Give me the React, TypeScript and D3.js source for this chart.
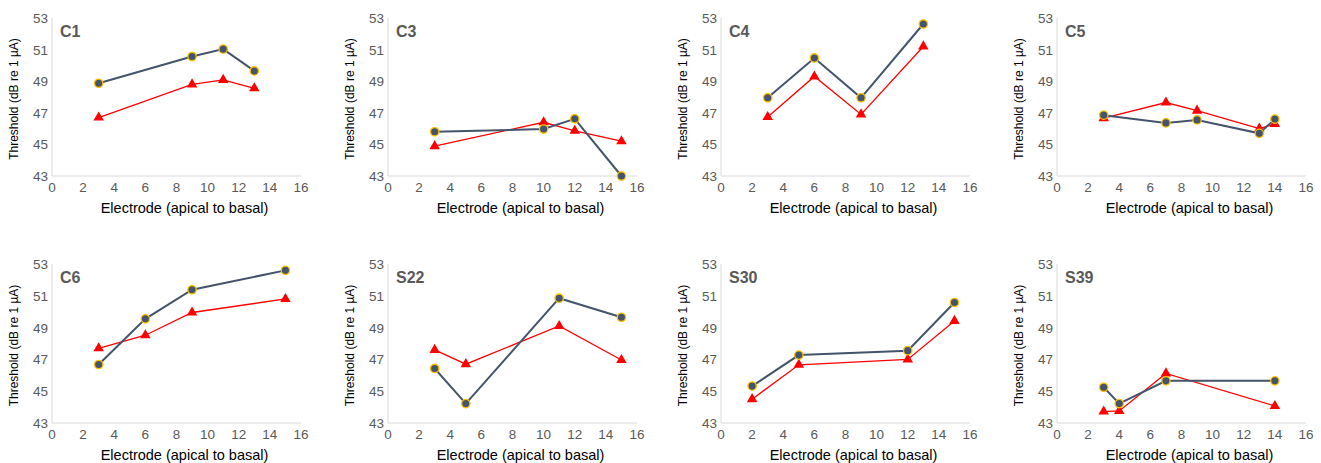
import React, { useRef, useEffect } from "react";
import * as d3 from "d3";

// panel names, in reading order
const panelNames = ["C1", "C3", "C4", "C5", "C6", "S22", "S30", "S39"];

// electrode numbers measured in each panel
const electrodes = [
  [3, 9, 11, 13],
  [3, 10, 12, 15],
  [3, 6, 9, 13],
  [3, 7, 9, 13, 14],
  [3, 6, 9, 15],
  [3, 5, 11, 15],
  [2, 5, 12, 15],
  [3, 4, 7, 14],
];

// dark circles
const circleThresholds = [
  [48.87, 50.56, 51.03, 49.65],
  [45.8, 45.97, 46.62, 43.0],
  [47.95, 50.47, 47.95, 52.62],
  [46.85, 46.36, 46.55, 45.7, 46.6],
  [46.68, 49.55, 51.38, 52.6],
  [46.43, 44.22, 50.85, 49.65],
  [45.32, 47.27, 47.55, 50.58],
  [45.25, 44.22, 45.65, 45.65],
];

// red triangles
const triangleThresholds = [
  [46.7, 48.8, 49.08, 48.55],
  [44.89, 46.4, 45.86, 45.2],
  [46.73, 49.3, 46.9, 51.2],
  [46.66, 47.65, 47.14, 46.0, 46.3],
  [47.7, 48.52, 49.95, 50.8],
  [47.6, 46.7, 49.1, 46.96],
  [44.5, 46.66, 47.0, 49.42],
  [43.72, 43.76, 46.12, 44.07],
];

const xTicks = [0, 2, 4, 6, 8, 10, 12, 14, 16];
const yTicks = [43, 45, 47, 49, 51, 53];

const W = 1321;
const H = 463;

const App = () => {
  const ref = useRef(null);

  useEffect(() => {
    const svg = d3.select(ref.current);
    svg.selectAll("*").remove();

    const lefts = [52, 388, 721, 1057];
    const plotW = 249;
    const rows = [
      { top: 18, bottom: 176, title: 213 },
      { top: 264, bottom: 423, title: 460 },
    ];
    const font = "'Liberation Sans', Arial, Helvetica, sans-serif";

    panelNames.forEach((name, i) => {
      const left = lefts[i % 4];
      const row = rows[Math.floor(i / 4)];
      const x = d3.scaleLinear().domain([0, 16]).range([left, left + plotW]);
      const y = d3.scaleLinear().domain([43, 53]).range([row.bottom, row.top]);
      const g = svg.append("g");

      // axes
      g.append("line")
        .attr("x1", x(0)).attr("x2", x(16))
        .attr("y1", y(43)).attr("y2", y(43))
        .attr("stroke", "#d9d9d9").attr("stroke-width", 1);
      g.append("line")
        .attr("x1", x(0)).attr("x2", x(0))
        .attr("y1", y(43)).attr("y2", y(53))
        .attr("stroke", "#d9d9d9").attr("stroke-width", 1);

      g.selectAll(".xt")
        .data(xTicks)
        .enter()
        .append("text")
        .attr("x", (d) => x(d))
        .attr("y", y(43) + 16)
        .attr("text-anchor", "middle")
        .style("font-family", font)
        .style("font-size", "13.5px")
        .style("fill", "#595959")
        .text((d) => d);

      g.selectAll(".yt")
        .data(yTicks)
        .enter()
        .append("text")
        .attr("x", x(0) - 4)
        .attr("y", (d) => y(d) + 5)
        .attr("text-anchor", "end")
        .style("font-family", font)
        .style("font-size", "13.5px")
        .style("fill", "#595959")
        .text((d) => d);

      g.append("text")
        .attr("x", (x(0) + x(16)) / 2 + 8)
        .attr("y", row.title)
        .attr("text-anchor", "middle")
        .style("font-family", font)
        .style("font-size", "14.5px")
        .style("fill", "#000")
        .text("Electrode (apical to basal)");

      g.append("text")
        .attr("transform", `translate(${x(0) - 34}, ${(row.top + row.bottom) / 2 + 2}) rotate(-90)`)
        .attr("text-anchor", "middle")
        .style("font-family", font)
        .style("font-size", "12px")
        .style("fill", "#000")
        .text("Threshold (dB re 1 \u00b5A)");

      g.append("text")
        .attr("x", x(0) + 8)
        .attr("y", row.top + 19)
        .style("font-family", font)
        .style("font-size", "16px")
        .style("font-weight", "bold")
        .style("fill", "#595959")
        .text(name);

      const line = d3
        .line()
        .x((d) => x(d[0]))
        .y((d) => y(d[1]));

      const red = electrodes[i].map((e, j) => [e, triangleThresholds[i][j]]);
      const blue = electrodes[i].map((e, j) => [e, circleThresholds[i][j]]);

      g.append("path")
        .attr("d", line(red))
        .attr("fill", "none")
        .attr("stroke", "#ff0000")
        .attr("stroke-width", 1.3);

      g.selectAll(".tri")
        .data(red)
        .enter()
        .append("path")
        .attr("d", d3.symbol().type(d3.symbolTriangle).size(48)())
        .attr("transform", (d) => `translate(${x(d[0])}, ${y(d[1])})`)
        .attr("fill", "#ff0000");

      g.append("path")
        .attr("d", line(blue))
        .attr("fill", "none")
        .attr("stroke", "#44546a")
        .attr("stroke-width", 2);

      g.selectAll(".dot")
        .data(blue)
        .enter()
        .append("circle")
        .attr("cx", (d) => x(d[0]))
        .attr("cy", (d) => y(d[1]))
        .attr("r", 4.2)
        .attr("fill", "#44546a")
        .attr("stroke", "#ffc000")
        .attr("stroke-width", 1.3);
    });
  }, []);

  return (
    <svg
      ref={ref}
      width={W}
      height={H}
      style={{ position: "absolute", left: 0, top: 0, background: "#fff" }}
    ></svg>
  );
};

export default App;
